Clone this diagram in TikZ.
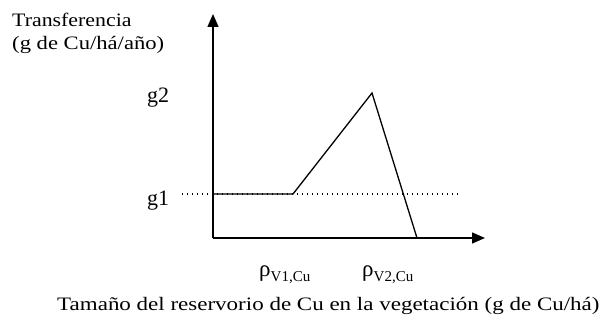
\documentclass[tikz,border=0pt]{standalone}
\usepackage{fontspec}
\setmainfont{Liberation Serif}
\usetikzlibrary{arrows.meta}
\tikzset{
	lbl/.style={inner sep=0pt,anchor=base west,font=\fontsize{19}{19}\selectfont},
	glbl/.style={inner sep=0pt,anchor=base west,font=\fontsize{22}{22}\selectfont},
	axis/.style={line width=1.4pt,-{Triangle[length=13pt,width=11pt]}},
	curve/.style={line width=1.3pt},
	level/.style={line width=1.1pt,dash pattern=on 1.4pt off 3.6pt}
}
\newcommand{\rhosub}[1]{\fontsize{23}{23}\selectfont ρ\raisebox{-5pt}{\fontsize{15}{15}\selectfont #1}}
\begin{document}
\begin{tikzpicture}[x=1pt,y=-1pt]
		\useasboundingbox (0,0) rectangle (608,326);
		\coordinate (O) at (213,238);
		\coordinate (ytop) at (213,14);
		\coordinate (xend) at (485,238);
		\coordinate (dl) at (182,194);
		\coordinate (dr) at (459,194);
		\coordinate (a) at (213,194);
		\coordinate (b) at (293,194);
		\coordinate (peak) at (372,93);
		\coordinate (c) at (417,238);
		\draw[level] (dl) -- (dr);
		\draw[axis] (O) -- (ytop);
		\draw[axis] (O) -- (xend);
		\draw[curve,line join=miter] (a) -- (b) -- (peak) -- (c);
		\node[lbl,xscale=1.15] (ttl1) at (12,27) {Transferencia};
		\node[lbl,xscale=1.19] (ttl2) at (12,50) {(g de Cu/há/año)};
		\node[glbl] (g2) at (147,103) {g2};
		\node[glbl] (g1) at (147,205) {g1};
		\node[inner sep=0pt,anchor=base west] (r1) at (259,276) {\rhosub{V1,Cu}};
		\node[inner sep=0pt,anchor=base west] (r2) at (362,276) {\rhosub{V2,Cu}};
		\node[lbl,xscale=1.21] (xlab) at (57,310) {Tamaño del reservorio de Cu en la vegetación (g de Cu/há)};
	\end{tikzpicture}
\end{document}
